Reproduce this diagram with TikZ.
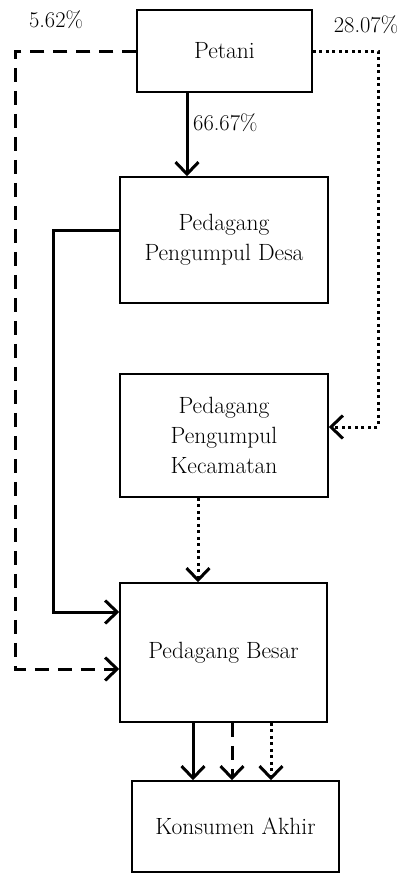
\documentclass[tikz,border=0pt]{standalone}
\usetikzlibrary{arrows.meta}
\begin{document}
\begin{tikzpicture}[x=1pt,y=-1pt,
  box/.style={draw=black,line width=1.5pt,rectangle,align=center,inner sep=0pt,
    font=\fontsize{23.5}{30}\selectfont},
  lbl/.style={inner sep=0pt,font=\fontsize{22.5}{24}\selectfont},
  conn/.style={line width=3pt,-{Straight Barb[length=12pt,width=23pt,line width=3pt]}},
  dashline/.style={dash pattern=on 14pt off 9pt},
  dotline/.style={dash pattern=on 3pt off 3.5pt}]
\useasboundingbox (0,0) rectangle (403,873);
\node[box,minimum width=175pt,minimum height=82pt] (petani) at (224.5,51) {Petani};
\node[box,minimum width=208pt,minimum height=126pt] (desa) at (224,240) {Pedagang\\Pengumpul Desa};
\node[box,minimum width=208pt,minimum height=123pt] (kec) at (224,435.5) {Pedagang\\Pengumpul\\Kecamatan};
\node[box,minimum width=207pt,minimum height=139pt] (besar) at (223.5,652.5) {Pedagang Besar};
\node[box,minimum width=207pt,minimum height=91pt] (kons) at (235.5,826.5) {Konsumen Akhir};
% coordinates
\coordinate (cA) at (187,0);
\coordinate (dl) at (15,669);
\coordinate (dr) at (378,427);
\coordinate (s1) at (53,230);
\coordinate (s2) at (53,612);
\coordinate (cK) at (198,0);
\coordinate (k1) at (193,0);
\coordinate (k2) at (232,0);
\coordinate (k3) at (271,0);
% connectors
\draw[conn] (petani.south -| cA) -- (desa.north -| cA);
\draw[conn,dashline] (petani.west) -| (dl) -- (besar.west |- dl);
\draw[conn,dotline] (petani.east) -| (dr) -- (kec.east |- dr);
\draw[conn] (desa.west |- s1) -- (s1) -- (s2) -- (besar.west |- s2);
\draw[conn,dotline] (kec.south -| cK) -- (besar.north -| cK);
\draw[conn] (besar.south -| k1) -- (kons.north -| k1);
\draw[conn,dashline] (besar.south -| k2) -- (kons.north -| k2);
\draw[conn,dotline] (besar.south -| k3) -- (kons.north -| k3);
% labels
\node[lbl,anchor=base] (l1) at (56,27) {5.62\%};
\node[lbl,anchor=base] (l2) at (366,32) {28.07\%};
\node[lbl,anchor=base west] (l3) at (193,130) {66.67\%};
\end{tikzpicture}
\end{document}
